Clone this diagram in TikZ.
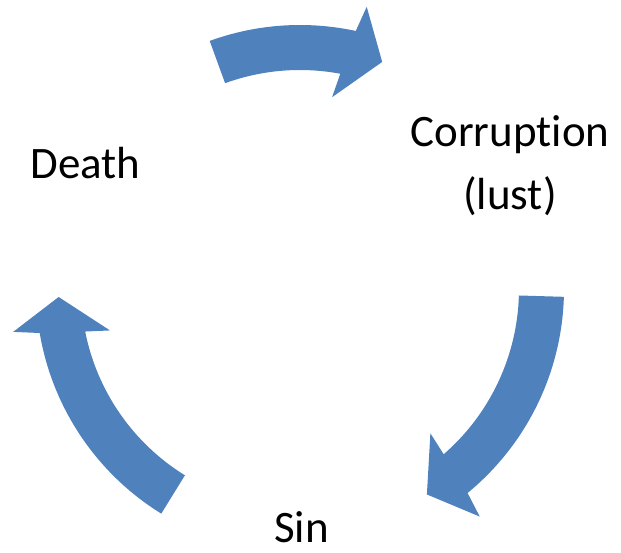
\documentclass[tikz,border=0pt]{standalone}
\usepackage{fontspec}
\setmainfont{Carlito}[Ligatures=NoCommon, RawFeature={-liga;-clig;-dlig;-calt}]
\definecolor{arrowblue}{HTML}{4F81BD}
\newcommand\cycarrow[2]{% #1 tail angle, #2 head base angle (clockwise arrow)
  \fill[cyclearrow] ([shift={(C)}]#1:264) arc[start angle=#1, end angle={#2-0.8}, radius=264]
    -- ([shift={(C)}]{#2-1.9}:290) -- ([shift={(C)}]{#2-8.5}:241.5)
    -- ([shift={(C)}]{#2+1.9}:194.5) -- ([shift={(C)}]{#2+0.8}:219)
    arc[start angle={#2+0.8}, end angle=#1, radius=219] -- cycle;}
\begin{document}
\begin{tikzpicture}[x=1pt,y=1pt,
  cyclearrow/.style={fill=arrowblue, draw=none},
  txt/.style={font=\fontsize{45}{63}\selectfont, inner sep=0pt, text=black}]
\useasboundingbox (0,0) rectangle (621,552);
\coordinate (C) at (300,263);
\cycarrow{110}{78.6}
\cycarrow{-1.7}{-49.8}
\cycarrow{238.3}{190.4}
\node[txt, anchor=base] (death) at (85.5,373) {Death};
\node[txt, anchor=base, align=center] (corruption) at (510,342) {Corrupt\kern0pt ion\\(lust)};
\node[txt, anchor=base] (sin) at (301.5,9.5) {Sin};
\end{tikzpicture}
\end{document}
